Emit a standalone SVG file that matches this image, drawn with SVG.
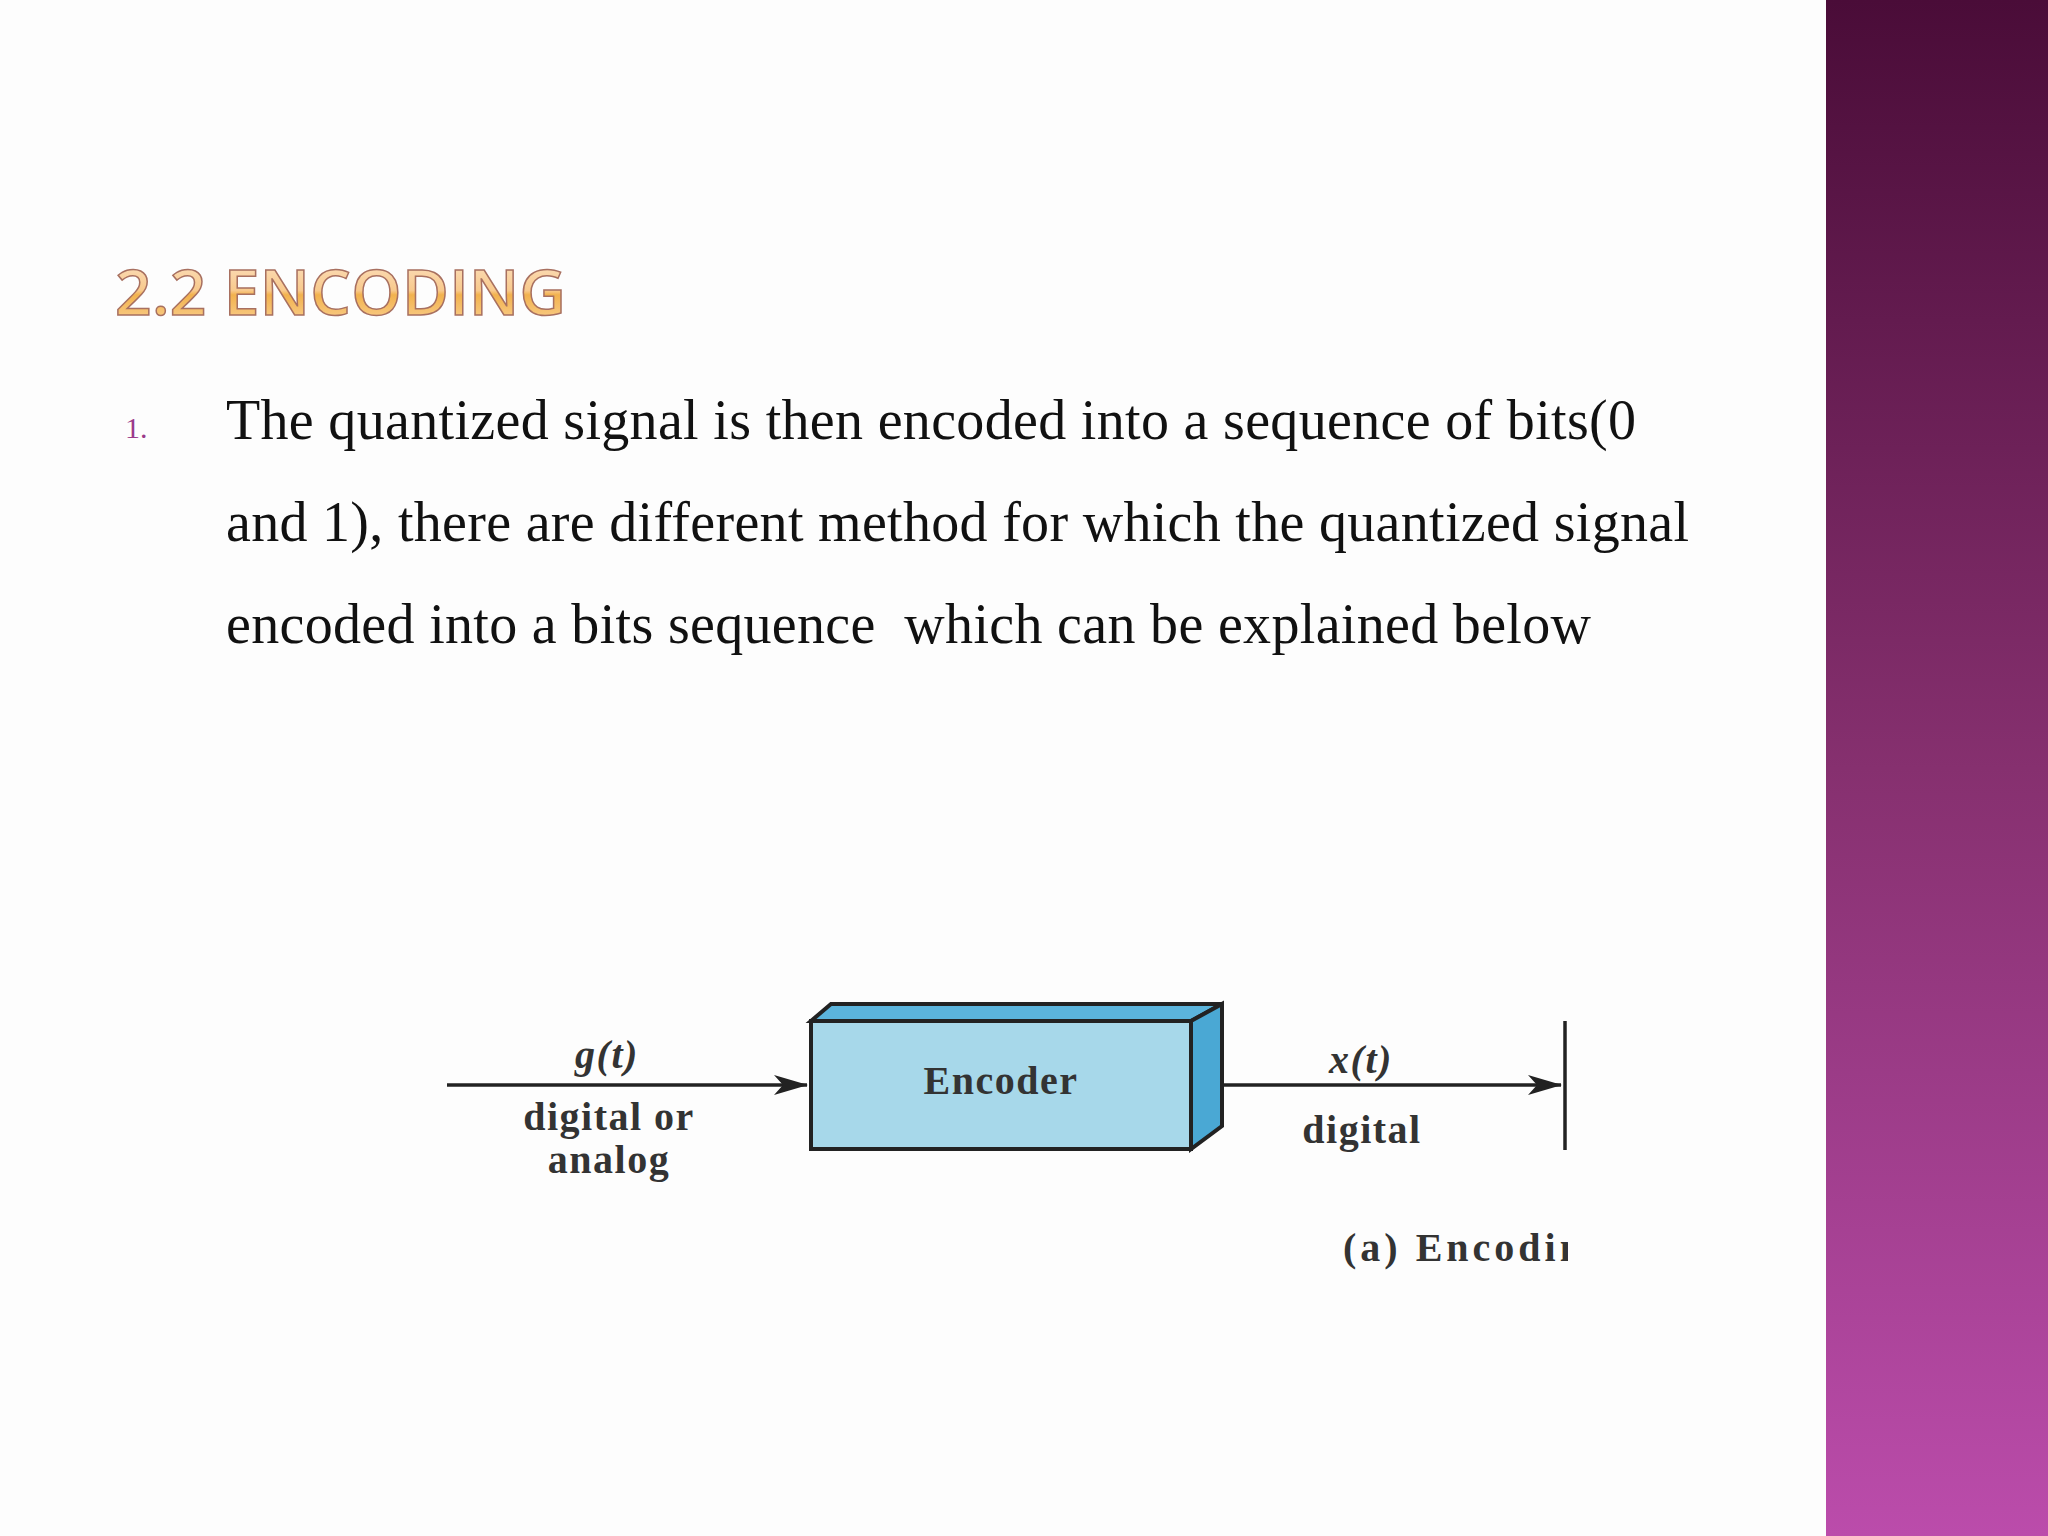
<svg xmlns="http://www.w3.org/2000/svg" width="2048" height="1536" viewBox="0 0 2048 1536">
<defs>
<linearGradient id="bar" x1="0" y1="0" x2="0" y2="1"><stop offset="0" stop-color="#4a0c38"/><stop offset="0.5" stop-color="#86306f"/><stop offset="1" stop-color="#bb4cab"/></linearGradient>
<linearGradient id="ttl" x1="0" y1="0" x2="0" y2="1"><stop offset="0" stop-color="#fde8d2"/><stop offset="0.5" stop-color="#f8c98c"/><stop offset="0.55" stop-color="#f2b24e"/><stop offset="1" stop-color="#fcd9a6"/></linearGradient>
<marker id="ah" markerWidth="34" markerHeight="20" refX="33" refY="10" orient="auto" markerUnits="userSpaceOnUse" viewBox="0 0 34 20"><path d="M0,0 L34,10 L0,20 L9,10 Z" fill="#222"/></marker>
<style>
.body{font-family:"Liberation Serif",serif;font-size:56px;fill:#111}
.lbl{font-family:"Liberation Serif",serif;font-weight:bold;font-size:40px;fill:#333;text-anchor:middle;letter-spacing:1.5px}
.ln{stroke:#222;stroke-width:3.5;fill:none}
</style>
<clipPath id="clp"><rect x="0" y="0" width="1568" height="1536"/></clipPath>
</defs>
<rect width="2048" height="1536" fill="#fdfdfd"/>
<rect x="1826" y="0" width="222" height="1536" fill="url(#bar)"/>
<text x="115" y="315" font-family="Open Sans, sans-serif" font-size="64" font-weight="600" fill="url(#ttl)" stroke="#a87060" stroke-width="1.5" letter-spacing="1" textLength="452">2.2 ENCODING</text>
<text x="125" y="438" font-family="Liberation Serif, serif" font-size="30" fill="#9a3a8a">1.</text>
<text class="body" x="226" y="439" textLength="1410">The quantized signal is then encoded into a sequence of bits(0</text>
<text class="body" x="226" y="541" textLength="1463">and 1), there are different method for which the quantized signal</text>
<text class="body" x="226" y="643" textLength="1365" xml:space="preserve">encoded into a bits sequence  which can be explained below</text>
<g id="connectors">
<line class="ln" x1="447" y1="1085" x2="807" y2="1085" marker-end="url(#ah)"/>
<line class="ln" x1="1199" y1="1085" x2="1561" y2="1085" marker-end="url(#ah)"/>
<line class="ln" x1="1565" y1="1021" x2="1565" y2="1150"/>
</g>
<g id="encoder">
<polygon points="811,1021 831,1004 1222,1004 1191,1021" fill="#5bb4dc" stroke="#222" stroke-width="4"/>
<polygon points="1191,1021 1222,1004 1222,1126 1191,1149" fill="#4aa8d4" stroke="#222" stroke-width="4"/>
<rect x="811" y="1021" width="380" height="128" fill="#a7d8ea" stroke="#222" stroke-width="4"/>
<text class="lbl" x="1001" y="1094" font-size="40">Encoder</text>
</g>
<g id="labels">
<text class="lbl" x="607" y="1068" font-style="italic">g(t)</text>
<text class="lbl" x="609" y="1130">digital or</text>
<text class="lbl" x="609" y="1173">analog</text>
<text class="lbl" x="1361" y="1073" font-style="italic">x(t)</text>
<text class="lbl" x="1362" y="1143">digital</text>
<text class="lbl" x="1343" y="1261" style="text-anchor:start;letter-spacing:4px" clip-path="url(#clp)">(a) Encoding</text>
</g>
</svg>
